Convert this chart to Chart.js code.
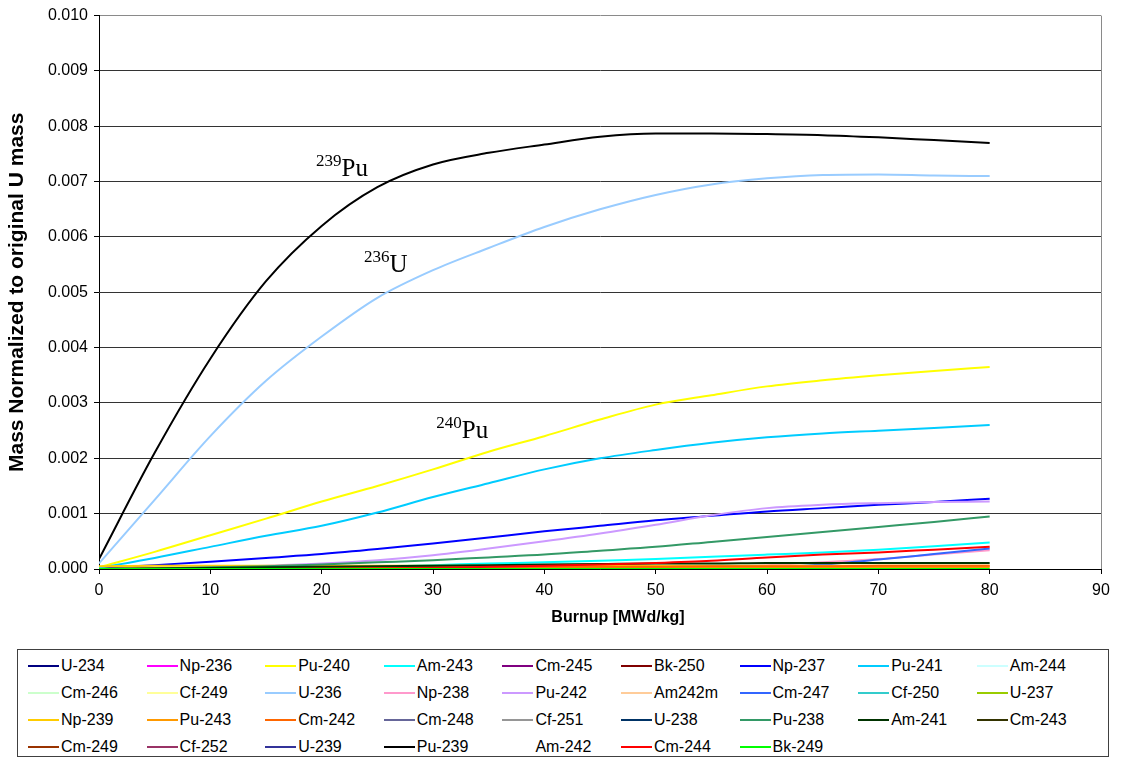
<!DOCTYPE html>
<html>
<head>
<meta charset="utf-8">
<title>Actinide inventory vs burnup</title>
<script src="https://cdn.jsdelivr.net/npm/chart.js@4.4.1/dist/chart.umd.min.js"></script>
<style>
  html, body { margin: 0; padding: 0; background: #fff; }
  body { width: 1125px; height: 760px; position: relative; overflow: hidden;
         font-family: "Liberation Sans", Arial, sans-serif; }
  #plot { position: absolute; left: 0; top: 0; width: 1125px; height: 645px; }
  #legend { position: absolute; left: 17px; top: 649px; width: 1092px; height: 108px;
            border: 1px solid #404040; box-sizing: border-box; display: grid;
            grid-template-columns: repeat(9, 118.6px); grid-auto-rows: 27px;
            padding: 2px 0 0 10px; }
  .item { display: flex; align-items: center; font-size: 16px; color: #000; white-space: nowrap; }
  .swatch { width: 31px; height: 2px; margin-right: 2px; flex: none; }
</style>
</head>
<body>
<div id="plot"><canvas id="c"></canvas></div>
<div id="legend"></div>
<script>
// Burnup steps [MWd/kg]
const burnup = [0, 5, 10, 15, 20, 25, 30, 35, 40, 45, 50, 55, 60, 65, 70, 75, 80];

// Nuclide names in legend order (row by row) and their line colours
const seriesNames = [
  'U-234', 'Np-236', 'Pu-240', 'Am-243', 'Cm-245', 'Bk-250', 'Np-237', 'Pu-241', 'Am-244',
  'Cm-246', 'Cf-249', 'U-236', 'Np-238', 'Pu-242', 'Am242m', 'Cm-247', 'Cf-250', 'U-237',
  'Np-239', 'Pu-243', 'Cm-242', 'Cm-248', 'Cf-251', 'U-238', 'Pu-238', 'Am-241', 'Cm-243',
  'Cm-249', 'Cf-252', 'U-239', 'Pu-239', 'Am-242', 'Cm-244', 'Bk-249'
];
const seriesColors = [
  '#000080', '#FF00FF', '#FFFF00', '#00FFFF', '#800080', '#800000', '#0000FF', '#00CCFF', '#CCFFFF',
  '#CCFFCC', '#FFFF99', '#99CCFF', '#FF99CC', '#CC99FF', '#FFCC99', '#3366FF', '#33CCCC', '#99CC00',
  '#FFCC00', '#FF9900', '#FF6600', '#666699', '#969696', '#003366', '#339966', '#003300', '#333300',
  '#993300', '#993366', '#333399', '#000000', '#FFFFFF', '#FF0000', '#00FF00'
];

// Mass normalized to original U mass, one value per burnup step
const u234   = [0, 0, 0, 0, 0, 0, 0, 0, 0, 0, 0, 0, 0, 0, 0, 0, 0];
const np236  = [0, 0, 0, 0, 0, 0, 0, 0, 0, 0, 0, 0, 0, 0, 0, 0, 0];
const pu240  = [0.00003, 0.00031, 0.00061, 0.00091, 0.00122, 0.0015, 0.0018, 0.00212, 0.0024, 0.0027, 0.00297, 0.00314, 0.0033, 0.00341, 0.0035, 0.00358, 0.00365];
const am243  = [0, 0, 0.000005, 0.000015, 0.00003, 0.00005, 0.00007, 0.0001, 0.00012, 0.00015, 0.00018, 0.00022, 0.00026, 0.0003, 0.00035, 0.00041, 0.00048];
const cm245  = [0, 0, 0, 0, 0, 0, 0, 0, 0, 0, 0, 0, 0, 0, 0, 0, 0];
const bk250  = [0, 0, 0, 0, 0, 0, 0, 0, 0, 0, 0, 0, 0, 0, 0, 0, 0];
const np237  = [0.00002, 0.00007, 0.00013, 0.0002, 0.00027, 0.00036, 0.00046, 0.00057, 0.00068, 0.00078, 0.00088, 0.00096, 0.00104, 0.0011, 0.00116, 0.00121, 0.00127];
const pu241  = [0.00002, 0.0002, 0.0004, 0.0006, 0.00078, 0.00102, 0.0013, 0.00155, 0.0018, 0.002, 0.00215, 0.00228, 0.00238, 0.00245, 0.0025, 0.00255, 0.0026];
const am244  = [0, 0, 0, 0, 0, 0, 0, 0, 0, 0, 0, 0, 0, 0, 0, 0, 0];
const cm246  = [0, 0, 0, 0, 0, 0, 0, 0, 0, 0, 0, 0, 0, 0, 0, 0, 0];
const cf249  = [0, 0, 0, 0, 0, 0, 0, 0, 0, 0, 0, 0, 0, 0, 0, 0, 0];
const u236   = [0.0001, 0.00125, 0.0024, 0.0034, 0.0042, 0.0049, 0.0054, 0.0058, 0.00618, 0.0065, 0.00676, 0.00695, 0.00706, 0.00712, 0.00713, 0.00711, 0.0071];
const np238  = [0, 0, 0, 0, 0, 0, 0, 0, 0, 0, 0.00001, 0.00003, 0.00007, 0.00012, 0.00018, 0.00026, 0.00034];
const pu242  = [0, 0.00001, 0.00003, 0.00006, 0.0001, 0.00016, 0.00025, 0.00037, 0.0005, 0.00064, 0.0008, 0.00097, 0.0011, 0.00116, 0.00119, 0.00121, 0.00122];
const am242m = [0, 0, 0, 0, 0, 0, 0, 0, 0, 0, 0, 0, 0, 0, 0, 0, 0];
const cm247  = [0, 0, 0, 0, 0, 0, 0, 0, 0, 0, 0, 0, 0.00002, 0.00008, 0.00017, 0.00027, 0.00037];
const cf250  = [0, 0, 0, 0, 0, 0, 0, 0, 0, 0, 0, 0, 0, 0, 0, 0, 0];
const u237   = [0, 0, 0, 0, 0, 0, 0, 0, 0, 0, 0, 0, 0, 0, 0, 0, 0];
const np239  = [0.00005, 0.00006, 0.00006, 0.00006, 0.00006, 0.00006, 0.00006, 0.00006, 0.00006, 0.00006, 0.00006, 0.00006, 0.00006, 0.00006, 0.00006, 0.00006, 0.00006];
const pu243  = [0, 0.00002, 0.00002, 0.00002, 0.00002, 0.00003, 0.00003, 0.00003, 0.00003, 0.00003, 0.00003, 0.00003, 0.00003, 0.00003, 0.00003, 0.00003, 0.00003];
const cm242  = [0, 0, 0.00001, 0.00001, 0.00002, 0.00002, 0.00003, 0.00003, 0.00004, 0.00004, 0.00004, 0.00005, 0.00005, 0.00005, 0.00006, 0.00006, 0.00006];
const cm248  = [0, 0, 0, 0, 0, 0, 0, 0, 0, 0, 0, 0, 0, 0, 0, 0, 0];
const cf251  = [0, 0, 0, 0, 0, 0, 0, 0, 0, 0, 0, 0, 0, 0, 0, 0, 0];
const u238   = [];  // far above the 0.010 ceiling of the axis
const pu238  = [0, 0.00001, 0.00003, 0.00005, 0.00008, 0.00012, 0.00016, 0.00021, 0.00026, 0.00033, 0.0004, 0.00049, 0.00058, 0.00067, 0.00076, 0.00085, 0.00095];
const am241  = [0, 0.00001, 0.00002, 0.00003, 0.00004, 0.00005, 0.00006, 0.00007, 0.00008, 0.00009, 0.0001, 0.0001, 0.00011, 0.00011, 0.00011, 0.00011, 0.00011];
const cm243  = [0, 0, 0, 0, 0, 0, 0, 0, 0, 0, 0, 0, 0, 0, 0, 0, 0];
const cm249  = [0, 0, 0, 0, 0, 0, 0, 0, 0, 0, 0, 0, 0, 0, 0, 0, 0];
const cf252  = [0, 0, 0, 0, 0, 0, 0, 0, 0, 0, 0, 0, 0, 0, 0, 0, 0];
const u239   = [0, 0, 0, 0, 0, 0, 0, 0, 0, 0, 0, 0, 0, 0, 0, 0, 0];
const pu239  = [0.00018, 0.0021, 0.0038, 0.0052, 0.0062, 0.0069, 0.00731, 0.00752, 0.00767, 0.00781, 0.00787, 0.00787, 0.00786, 0.00784, 0.0078, 0.00775, 0.0077];
const am242  = [0, 0, 0, 0, 0, 0, 0, 0, 0, 0, 0, 0, 0, 0, 0, 0, 0];
const cm244  = [0, 0, 0, 0, 0.000005, 0.00001, 0.00002, 0.00004, 0.00006, 0.00008, 0.00011, 0.00015, 0.00021, 0.00026, 0.0003, 0.00035, 0.0004];
const bk249  = [0, 0, 0, 0, 0, 0, 0, 0, 0, 0, 0, 0, 0, 0, 0, 0, 0];

const seriesValues = [
  u234, np236, pu240, am243, cm245, bk250, np237, pu241, am244,
  cm246, cf249, u236, np238, pu242, am242m, cm247, cf250, u237,
  np239, pu243, cm242, cm248, cf251, u238, pu238, am241, cm243,
  cm249, cf252, u239, pu239, am242, cm244, bk249
];

// Axis ticks
const xTicks = [0, 10, 20, 30, 40, 50, 60, 70, 80, 90];
const yTicks = [0, 0.001, 0.002, 0.003, 0.004, 0.005, 0.006, 0.007, 0.008, 0.009, 0.010];

// Curve annotations: mass number, element, anchor burnup and anchor mass (text baseline)
const noteMass    = ['239', '236', '240'];
const noteElement = ['Pu', 'U', 'Pu'];
const noteBurnup  = [19.5, 23.8, 30.3];
const noteLevel   = [0.00711, 0.00536, 0.00236];

const xTitle = 'Burnup [MWd/kg]';
const yTitle = 'Mass Normalized to original U mass';

const SANS = '"Liberation Sans", Arial, sans-serif';
const SERIF = '"Liberation Serif", "Times New Roman", serif';

const datasets = seriesNames.map((name, i) => ({
  label: name,
  data: seriesValues[i].map((v, k) => ({ x: burnup[k], y: v })),
  borderColor: seriesColors[i],
  backgroundColor: seriesColors[i],
  borderWidth: 2,
  pointRadius: 0,
  pointHoverRadius: 0,
  fill: false,
  cubicInterpolationMode: 'monotone',
  // later series are painted over earlier ones
  order: seriesNames.length - i
}));

// Isotope labels next to the three main curves, plus the burnup axis title
const annotations = {
  id: 'annotations',
  afterDatasetsDraw(chart) {
    const { ctx, chartArea, scales: { x, y } } = chart;
    ctx.save();
    ctx.fillStyle = '#000';
    ctx.textBaseline = 'alphabetic';
    ctx.textAlign = 'left';
    noteMass.forEach((m, i) => {
      let px = x.getPixelForValue(noteBurnup[i]);
      const py = y.getPixelForValue(noteLevel[i]);
      ctx.font = '17px ' + SERIF;
      ctx.fillText(m, px, py - 10);
      px += ctx.measureText(m).width;
      ctx.font = '25px ' + SERIF;
      ctx.fillText(noteElement[i], px, py);
    });
    ctx.font = 'bold 16px ' + SANS;
    ctx.textAlign = 'center';
    ctx.textBaseline = 'middle';
    ctx.fillText(xTitle, (chartArea.left + chartArea.right) / 2 + 18, x.bottom - 27);
    ctx.restore();
  }
};

const near = (a, b) => Math.abs(a - b) < 1e-9;

const chart = new Chart(document.getElementById('c'), {
  type: 'line',
  data: { datasets },
  plugins: [annotations],
  options: {
    responsive: true,
    maintainAspectRatio: false,
    animation: false,
    events: [],
    layout: { padding: { left: 0, top: 15, right: 24, bottom: 0 } },
    plugins: {
      legend: { display: false },
      tooltip: { enabled: false }
    },
    scales: {
      x: {
        type: 'linear',
        min: xTicks[0],
        max: xTicks[xTicks.length - 1],
        afterBuildTicks: (s) => { s.ticks = xTicks.map(v => ({ value: v })); },
        afterFit: (s) => { s.height = 76; },
        ticks: { color: '#000', font: { family: SANS, size: 16 }, padding: 7, maxRotation: 0 },
        grid: {
          drawOnChartArea: true,
          color: (c) => (c.tick && near(c.tick.value, 90)) ? '#8a8a8a' : 'rgba(0,0,0,0)',
          tickColor: '#000',
          tickLength: 5,
          lineWidth: 1
        },
        border: { display: true, color: '#000', width: 1 },
        title: { display: false }
      },
      y: {
        type: 'linear',
        min: yTicks[0],
        max: yTicks[yTicks.length - 1],
        afterBuildTicks: (s) => { s.ticks = yTicks.map(v => ({ value: v })); },
        afterFit: (s) => { s.width = 99; },
        ticks: {
          color: '#000',
          font: { family: SANS, size: 16 },
          padding: 6,
          callback: (v) => Number(v).toFixed(3)
        },
        grid: {
          color: (c) => (c.tick && near(c.tick.value, 0.01)) ? '#8a8a8a' : '#333',
          tickColor: '#000',
          tickLength: 5,
          lineWidth: 1
        },
        border: { display: true, color: '#000', width: 1 },
        title: {
          display: true,
          text: yTitle,
          color: '#000',
          font: { family: SANS, size: 21, weight: 'bold' },
          padding: { top: 5, bottom: 0 }
        }
      }
    }
  }
});

// Legend built from the chart's datasets, 9 equal columns
const legendBox = document.getElementById('legend');
chart.data.datasets.forEach((ds) => {
  const item = document.createElement('div');
  item.className = 'item';
  const sw = document.createElement('span');
  sw.className = 'swatch';
  sw.style.background = ds.borderColor;
  const txt = document.createElement('span');
  txt.textContent = ds.label;
  item.appendChild(sw);
  item.appendChild(txt);
  legendBox.appendChild(item);
});
</script>
</body>
</html>
